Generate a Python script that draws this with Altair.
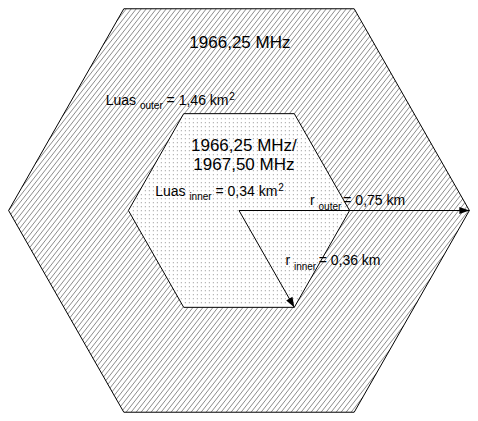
import math
import altair as alt
import pandas as pd

# ---------------- data ----------------
r_outer_km = 0.75
r_inner_km = 0.36
freq_outer = "1966,25 MHz"
freq_inner = ["1966,25 MHz/", "1967,50 MHz"]
area_outer = "1,46"
area_inner = "0,34"
r_outer_txt = "0,75"
r_inner_txt = "0,36"

# ---------------- layout ----------------
W, H = 462, 405
X_DOM = [-0.752, 0.752]
Y_DOM = [-0.652, 0.652]
SX = W / (X_DOM[1] - X_DOM[0])
SY = H / (Y_DOM[1] - Y_DOM[0])
HATCH_STEP = 5.0      # px, horizontal spacing of hatch lines
HATCH_ANGLE = 52      # degrees
DOT_STEP = 4          # px
FONT = "Liberation Sans"
FS_MAIN, FS_SMALL, FS_BIG = 14, 10, 17


def to_px(x, y):
    return (x - X_DOM[0]) * SX, (Y_DOM[1] - y) * SY


def to_km(px, py):
    return X_DOM[0] + px / SX, Y_DOM[1] - py / SY


def hex_vertices(r):
    return [(r * math.cos(math.radians(a)), r * math.sin(math.radians(a)))
            for a in range(0, 360, 60)]


def hex_area_df(r):
    h = r * math.sqrt(3) / 2
    return pd.DataFrame({"x": [-r, -r / 2, r / 2, r],
                         "top": [0, h, h, 0],
                         "bot": [0, -h, -h, 0]})


def hex_outline_df(r):
    v = hex_vertices(r)
    v = v + [v[0]]
    return pd.DataFrame({"x": [p[0] for p in v], "y": [p[1] for p in v],
                         "o": list(range(len(v)))})


# hatch lines clipped to the outer hexagon (pixel space)
outer_px = [to_px(*p) for p in hex_vertices(r_outer_km)]
th = math.radians(HATCH_ANGLE)
nvec = (math.sin(th), math.cos(th))
dvec = (math.cos(th), -math.sin(th))
cs = [nvec[0] * p[0] + nvec[1] * p[1] for p in outer_px]
step = HATCH_STEP * math.sin(th)
rows = []
c = min(cs) + step / 2
while c < max(cs):
    pts = []
    n = len(outer_px)
    for i in range(n):
        a, b = outer_px[i], outer_px[(i + 1) % n]
        fa = nvec[0] * a[0] + nvec[1] * a[1] - c
        fb = nvec[0] * b[0] + nvec[1] * b[1] - c
        if (fa <= 0 < fb) or (fb <= 0 < fa):
            t = fa / (fa - fb)
            pts.append((a[0] + t * (b[0] - a[0]), a[1] + t * (b[1] - a[1])))
    if len(pts) >= 2:
        pts.sort(key=lambda p: p[0] * dvec[0] + p[1] * dvec[1])
        x1, y1 = to_km(*pts[0])
        x2, y2 = to_km(*pts[-1])
        rows.append({"x": x1, "y": y1, "x2": x2, "y2": y2})
    c += step
hatch_df = pd.DataFrame(rows)

# dot grid inside the inner hexagon
inner_px = [to_px(*p) for p in hex_vertices(r_inner_km)]


def inside(p, poly, m=1.5):
    n = len(poly)
    for i in range(n):
        a, b = poly[i], poly[(i + 1) % n]
        cr = (b[0] - a[0]) * (p[1] - a[1]) - (b[1] - a[1]) * (p[0] - a[0])
        ln = math.hypot(b[0] - a[0], b[1] - a[1])
        if cr / ln > -m:
            return False
    return True


xs = [p[0] for p in inner_px]
ys = [p[1] for p in inner_px]
dots = []
py = min(ys) + 1
while py < max(ys):
    px = min(xs) + 1
    while px < max(xs):
        if inside((px, py), inner_px[::-1]) or inside((px, py), inner_px):
            kx, ky = to_km(px, py)
            dots.append({"x": kx, "y": ky})
        px += DOT_STEP
    py += DOT_STEP
dots_df = pd.DataFrame(dots)

# arrows
tips = [(r_outer_km, 0.0),
        (r_inner_km / 2, -r_inner_km * math.sqrt(3) / 2)]
arrow_lines = pd.DataFrame({"x": [0, 0], "y": [0, 0],
                            "x2": [t[0] for t in tips],
                            "y2": [t[1] for t in tips]})
arrow_heads = pd.DataFrame({
    "x": [t[0] for t in tips], "y": [t[1] for t in tips],
    "ang": [math.degrees(math.atan2(-t[1] * SY, t[0] * SX)) for t in tips]})

# ---------------- text (Arial-metric widths for run layout) ----------------
AW = {" ": 278, "=": 584, ",": 278, "/": 278, "k": 500, "m": 833, "L": 556,
      "u": 556, "a": 556, "s": 500, "o": 556, "t": 278, "e": 556, "r": 333,
      "i": 222, "n": 556, "M": 833, "H": 722, "z": 500}


def text_w(s, fs):
    return sum(AW.get(ch, 556) for ch in s) * fs / 1000.0


def run(x0, y0, pieces, sub_off):
    """pieces: list of (text, kind, gap_after_px); kind in n/sub/sup"""
    out = []
    xp = 0.0
    for txt, kind, gap in pieces:
        fs = FS_MAIN if kind == "n" else FS_SMALL
        dy = 0.0
        if kind == "sub":
            dy = -sub_off / SY
        elif kind == "sup":
            dy = 5.0 / SY
        out.append({"t": txt, "x": x0 + xp / SX, "y": y0 + dy, "fs": fs})
        xp += text_w(txt, fs) + gap
    return out


sp = text_w(" ", FS_MAIN)
left_rows = []
left_rows += run(-0.434, 0.339, [("Luas", "n", sp), ("outer", "sub", sp),
                                 (f"= {area_outer} km", "n", 0.8),
                                 ("2", "sup", 0)], 4)
left_rows += run(-0.273, 0.047, [("Luas", "n", sp), ("inner", "sub", sp),
                                 (f"= {area_inner} km", "n", 0.8),
                                 ("2", "sup", 0)], 4)
left_rows += run(0.231, 0.019, [("r", "n", sp), ("outer", "sub", 2.0),
                                (f"= {r_outer_txt} km", "n", 0)], 5.5)
left_rows += run(0.151, -0.174, [("r", "n", sp), ("inner", "sub", 2.5),
                                 (f"= {r_inner_txt} km", "n", 0)], 5.5)
left_labels = pd.DataFrame(left_rows)

center_labels = pd.DataFrame([
    {"t": freq_outer, "x": 0.003, "y": 0.522, "fs": FS_BIG},
    {"t": freq_inner[0], "x": 0.016, "y": 0.193, "fs": FS_BIG},
    {"t": freq_inner[1], "x": 0.016, "y": 0.130, "fs": FS_BIG},
])

# ---------------- chart ----------------
xs_ = alt.Scale(domain=X_DOM, nice=False, zero=False)
ys_ = alt.Scale(domain=Y_DOM, nice=False, zero=False)
X = lambda f="x": alt.X(f"{f}:Q", scale=xs_, axis=None)
Y = lambda f="y": alt.Y(f"{f}:Q", scale=ys_, axis=None)

outer_fill = alt.Chart(hex_area_df(r_outer_km)).mark_area(
    color="white", opacity=1).encode(x=X(), y=Y("top"), y2="bot")

hatch = alt.Chart(hatch_df).mark_rule(
    color="#6e6e6e", strokeWidth=0.8).encode(x=X(), y=Y(), x2="x2", y2="y2")

inner_fill = alt.Chart(hex_area_df(r_inner_km)).mark_area(
    color="white", opacity=1).encode(x=X(), y=Y("top"), y2="bot")

dots_l = alt.Chart(dots_df).mark_square(
    size=1.5, color="#b4b4b4", opacity=1, filled=True).encode(x=X(), y=Y())

outer_line = alt.Chart(hex_outline_df(r_outer_km)).mark_line(
    color="black", strokeWidth=1).encode(x=X(), y=Y(), order="o:Q")
inner_line = alt.Chart(hex_outline_df(r_inner_km)).mark_line(
    color="black", strokeWidth=1).encode(x=X(), y=Y(), order="o:Q")

arr_l = alt.Chart(arrow_lines).mark_rule(color="black", strokeWidth=1).encode(
    x=X(), y=Y(), x2="x2", y2="y2")
arr_h = alt.Chart(arrow_heads).mark_point(
    shape="M0,0L-1,-0.36L-1,0.36Z", size=400, filled=True, color="black",
    opacity=1).encode(x=X(), y=Y(), angle=alt.Angle("ang:Q", scale=None))

txt_l = alt.Chart(left_labels).mark_text(
    align="left", baseline="alphabetic", font=FONT,
    color="#000000").encode(x=X(), y=Y(), text="t:N",
                            size=alt.Size("fs:Q", scale=None))
txt_c = alt.Chart(center_labels).mark_text(
    align="center", baseline="alphabetic", font=FONT,
    color="#000000").encode(x=X(), y=Y(), text="t:N",
                            size=alt.Size("fs:Q", scale=None))

chart = alt.layer(outer_fill, hatch, inner_fill, dots_l, outer_line,
                  inner_line, arr_l, arr_h, txt_l, txt_c).properties(
    width=W, height=H, padding=0, autosize=alt.AutoSizeParams(type="none"),
    background="white"
).configure_view(stroke=None)

chart.save("out.html", embed_options={"renderer": "svg", "actions": False})
